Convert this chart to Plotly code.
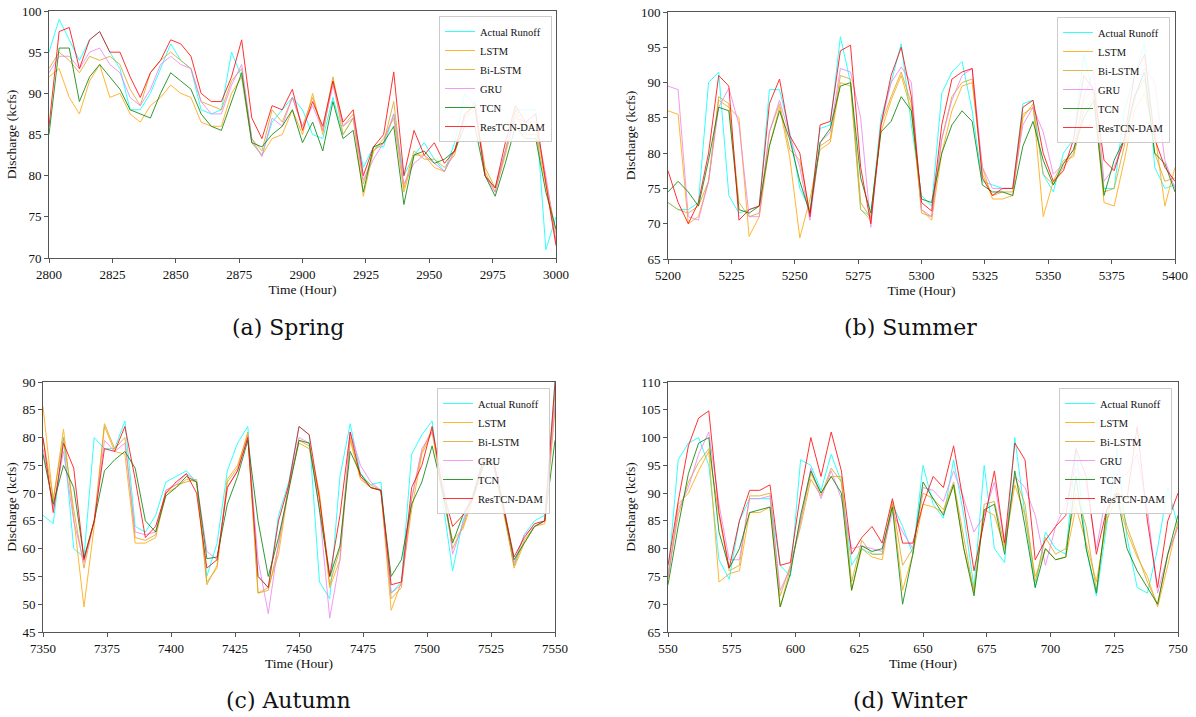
import plotly.graph_objects as go

spring_hours = list(range(2800, 3001, 4))
spring_actual = [95, 99, 96.5, 94, 96.5, 97.5, 95, 93, 88, 88, 90, 93, 96, 94, 93, 88, 87.5, 88, 95, 92, 84, 82.5, 86.5, 88, 89.5, 88, 85, 84.5, 89.5, 85, 87, 81, 83.5, 83.5, 87.5, 80, 82.5, 84, 82, 80.5, 84, 90, 88.5, 80, 78.5, 83, 88, 88, 88, 71, 75]
spring_lstm = [92, 93, 89.5, 87.5, 91.5, 93.5, 89.5, 90, 87.5, 86.5, 88.5, 89.5, 91, 90, 89.5, 86.5, 86, 86, 90, 92, 84, 82.5, 84.5, 85, 88, 85, 90, 85, 91.5, 85, 87, 77.5, 83, 84.5, 87, 78, 82.5, 82.5, 81, 80.5, 83, 87, 88, 80.5, 78, 82.5, 87.5, 85, 85, 79, 72]
spring_bilstm = [93, 95, 94, 92.5, 94.5, 94, 94.5, 93.5, 90.5, 88.5, 92.5, 94, 95, 94, 93, 89, 88.5, 88, 91.5, 93, 84.5, 83, 88, 86.5, 89.5, 86, 89.5, 85.5, 92, 86, 87.5, 79, 83, 84, 89, 78.5, 83, 82, 82, 81, 82.5, 87.5, 88.5, 81, 78.5, 83, 88, 86, 86, 79.5, 73]
spring_gru = [92.5, 94.5, 94.5, 93, 95, 95.5, 93.5, 92.5, 89.5, 88.5, 90.5, 93.5, 94.5, 93.5, 93, 89, 87.5, 87.5, 91, 93.5, 84.5, 82.3, 87, 86, 89.5, 86, 88.5, 85.5, 91, 86, 87, 79.5, 82, 84, 87.5, 79, 81.5, 82.5, 81.5, 80.5, 83, 87, 89, 80, 78, 83, 87, 86.5, 86.5, 80, 72]
spring_tcn = [85, 95.5, 95.5, 89, 92, 93.5, 92, 90.5, 88, 87.5, 87, 90, 92.5, 91.5, 90.5, 87.5, 86, 85.5, 89, 92.5, 84, 83.5, 85, 86, 88, 84, 86.5, 83, 89, 84.5, 85.5, 78, 83.5, 84, 86, 76.5, 82.5, 83, 81.5, 82, 83, 86, 86, 80, 77.5, 81.5, 86, 84.5, 84.5, 78, 73.5]
spring_restcn = [86, 97.5, 98, 93, 96.5, 97.5, 95, 95, 92, 89.5, 92.5, 94, 96.5, 96, 94.5, 90, 89, 89, 92, 96.5, 87, 84.5, 88.5, 88, 90.5, 85.5, 89, 86, 91.5, 86.5, 88, 80, 83.5, 85, 92.6, 80, 85.5, 82.5, 84, 81.5, 83, 87.5, 88.5, 80, 78.5, 84, 88.5, 86.5, 87.5, 79, 71.5]

summer_hours = list(range(5200, 5401, 4))
summer_actual = [73, 72, 72, 73, 90, 91.5, 74, 71.5, 72, 72.5, 89, 89, 83, 75, 72, 83.5, 84, 96.5, 90, 72, 71, 85, 90, 95.5, 84, 74, 72.5, 88.5, 91.5, 93, 86, 76, 75.5, 75, 75, 87, 87.5, 77, 74.5, 80, 82, 94, 88, 75, 75, 86, 91, 95.5, 78, 75, 75.5]
summer_lstm = [86, 85.5, 70, 71, 76, 87.5, 86.5, 85, 68.2, 71, 81, 86.5, 79.5, 68, 73.5, 80.5, 81.5, 90, 89.5, 72, 70.5, 83, 87.5, 91, 86, 72, 70.5, 80, 86, 89.5, 90, 78, 73.5, 73.5, 74, 85, 87, 71, 76, 79, 79.5, 86, 88, 73, 72.5, 79, 86, 88.5, 83, 72.5, 78]
summer_bilstm = [73, 72, 71.5, 72.5, 76, 88, 87, 73, 71, 71.5, 83, 87, 80.5, 79, 71.5, 81, 82, 91, 90.5, 73, 70.8, 84, 88, 91.5, 87, 71.5, 71, 82, 88, 90, 90.5, 77, 74, 74.5, 74.5, 85.5, 86.5, 77, 75.5, 78, 80, 87.5, 89, 74.5, 75, 81, 88, 90.5, 80, 76, 76.5]
summer_gru = [89.5, 89, 71, 70.5, 76, 86.5, 89.2, 84, 71, 71, 83, 87.5, 82.5, 78, 70.5, 81.5, 83, 92, 91.5, 85, 69.5, 84, 90, 92.2, 90, 72, 71, 82, 87.5, 91, 92, 78, 75, 75, 75, 84, 86.5, 83, 77, 78.5, 80.5, 88, 91.5, 76, 78, 82, 87.5, 92, 90, 79, 75]
summer_tcn = [74.5, 76, 74.5, 72.5, 79, 86.5, 86, 72, 71.5, 72.5, 81, 86, 82, 76, 71.5, 81.5, 83.5, 89.5, 90, 76.5, 71.5, 83, 84.5, 88, 86, 73.5, 73, 80, 84, 86, 84.5, 75.5, 74.5, 74.5, 74, 81, 84.5, 79, 75.5, 78.5, 80.5, 85, 87.5, 74, 79, 82, 88, 91.5, 80, 78.5, 74.5]
summer_restcn = [77.5, 73, 70, 73, 80, 91, 89.5, 70.5, 72, 72.5, 87, 90.5, 82.5, 80, 71, 84, 84.5, 94.5, 95.3, 78, 70, 84, 91, 95, 88, 73, 71.8, 84, 90.5, 91.5, 92, 76.5, 74, 75, 75, 86.5, 87.5, 80, 76, 77.5, 82, 91, 89, 79, 77.5, 82, 91, 94, 82, 78, 76]

autumn_hours = list(range(7350, 7551, 4))
autumn_actual = [66, 64.5, 80, 60, 58.5, 80, 78, 78, 83, 64, 63, 66, 72, 73, 74, 72, 55, 61, 74, 79, 82, 55, 53, 66, 72, 82, 80.5, 54, 51, 73, 82.5, 73.5, 71.5, 72, 52, 54, 77, 80.5, 83, 69, 56, 65, 70, 76.5, 75.5, 67, 57, 62.5, 65, 66, 90]
autumn_lstm = [85.6, 68.5, 81.5, 66, 49.5, 64, 82, 77.5, 77, 61, 61, 62, 70, 71, 72.5, 72, 54, 56.5, 72.5, 75, 80.5, 52, 53, 59, 71, 79.5, 78.5, 70, 53, 58, 79.5, 72.5, 71, 70.5, 48.9, 54, 67, 77, 81, 70, 61.5, 63.5, 69, 75.5, 75, 67, 56.5, 61, 64, 64.5, 85]
autumn_bilstm = [80, 69, 80, 67, 56.5, 65, 82.5, 78, 80, 62, 61.5, 62.5, 70.5, 71.5, 72, 72.5, 53.5, 57, 72, 74.5, 81, 52, 52.5, 60.5, 71.5, 79, 78, 69, 53.5, 60, 80, 73, 71.5, 70.5, 51, 53, 69, 77.5, 81.5, 70.5, 60, 64, 69.5, 75, 75.5, 66.5, 57, 61.5, 64, 65, 88]
autumn_gru = [78, 67.5, 77.5, 65, 57.5, 65, 79.5, 77.5, 79, 63, 62.5, 63, 70.5, 71.5, 73.5, 72, 59.5, 58, 71, 74, 80, 58, 48.3, 61, 71, 80, 79, 67, 47.5, 58, 81, 75, 72, 70.5, 52, 53.5, 69, 78, 81, 73.5, 59, 64.5, 70, 76, 75, 68, 57.5, 62.5, 64, 65, 86]
autumn_tcn = [77, 68, 75, 71, 58.3, 65, 74, 76, 77.5, 74.5, 65, 63, 69.5, 71, 73, 72, 58.2, 58.5, 68, 73, 79.5, 65, 55, 62, 70.5, 79.5, 79, 67, 55, 60.5, 77.5, 73.5, 71, 70.5, 55, 58, 68, 72, 78.5, 70.5, 61, 66, 69, 75, 75.5, 67, 58, 61, 64, 65, 79.5]
autumn_restcn = [80, 66.5, 79, 74.5, 58, 65, 78, 77.5, 82, 72.5, 62, 64, 70, 72, 73.5, 70, 56.5, 58, 71, 74, 80, 55, 53, 65, 71.5, 82, 80.5, 69, 55, 66, 81, 73, 71, 70.5, 53.5, 54, 71, 75, 82, 71, 64, 66, 69.5, 76, 76, 67, 58.5, 62, 64.5, 65, 90]

winter_hours = list(range(550, 751, 4))
winter_actual = [75, 96, 99, 100, 95, 78, 74.5, 85, 89, 89, 89, 77, 75, 96, 95, 90.5, 97, 92, 77, 80, 79, 79, 88, 84, 79, 95, 88, 85.5, 96, 86, 73, 95, 80, 77.5, 100, 86, 73, 83, 80, 79, 98, 80, 71.5, 84, 98, 82, 73, 72, 80, 91, 84]
winter_lstm = [74.5, 88, 90, 94, 97.5, 74, 75.5, 76, 86.5, 86.5, 87.5, 69.5, 76.5, 85, 93.5, 90, 93, 93, 72.5, 80, 78.5, 78, 88, 72.5, 79, 88, 87.5, 86.5, 91.5, 80, 72.5, 87, 86, 80, 91.5, 86, 75, 80, 78, 78.5, 87.5, 81, 74, 85, 89.5, 83, 78.5, 75, 69.5, 77, 85]
winter_bilstm = [75, 86, 92, 95.5, 98, 86, 76, 77, 89.5, 89.5, 90, 71.5, 77, 84, 92.5, 89.5, 94.5, 92, 74, 81.5, 79, 79, 88.5, 77, 80, 90, 89, 87, 92, 82, 72, 88, 88.5, 80.5, 93, 88, 74, 82, 79, 80, 90, 84, 72.5, 86, 91, 84, 79, 74, 70, 79, 84]
winter_gru = [75, 87, 91, 97, 101, 88, 78, 78, 89, 89, 89.5, 72.5, 76.5, 85, 94.5, 89, 94, 89, 80, 80.5, 80, 79.5, 86.5, 83, 80, 91, 90.5, 88.5, 94, 89, 83, 86, 92, 81, 93, 91, 86, 77, 84, 88, 94.5, 92, 80, 90, 92.5, 93.5, 97, 87, 72, 79, 84]
winter_tcn = [73.5, 84, 93.5, 99, 100, 83, 76.5, 80, 86.5, 87, 87.5, 69.5, 75.5, 86, 94, 90, 93, 90, 72.5, 80.5, 79.5, 80, 87.5, 70, 79, 92, 89, 86, 91.5, 80, 71.5, 87, 88, 79, 94, 84, 73, 80, 78, 78.5, 93, 80, 72, 87, 90, 80, 76, 73, 70, 79, 86]
winter_restcn = [77, 88.5, 98.5, 103.5, 104.8, 86.5, 76.5, 85, 90.5, 90.5, 91.5, 77, 77.5, 90, 100, 93, 101, 94, 79, 82, 84, 81, 89, 81, 81, 88, 93, 91, 98.5, 88, 76, 85, 94, 81, 99, 96, 78, 81.5, 84, 86, 98, 93, 79, 87, 90, 89, 102, 85, 73, 85, 90]

series_names = ["Actual Runoff", "LSTM", "Bi-LSTM", "GRU", "TCN", "ResTCN-DAM"]
series_colors = ["#00FFFF", "#FFA500", "#DAA520", "#EE82EE", "#008000", "#FF0000"]

panel_captions = ["(a) Spring", "(b) Summer", "(c) Autumn", "(d) Winter"]
panel_xranges = [[2800, 3000], [5200, 5400], [7350, 7550], [550, 750]]
panel_yranges = [[70, 100], [65, 100], [45, 90], [65, 110]]

panels = [
    (spring_hours, [spring_actual, spring_lstm, spring_bilstm, spring_gru, spring_tcn, spring_restcn]),
    (summer_hours, [summer_actual, summer_lstm, summer_bilstm, summer_gru, summer_tcn, summer_restcn]),
    (autumn_hours, [autumn_actual, autumn_lstm, autumn_bilstm, autumn_gru, autumn_tcn, autumn_restcn]),
    (winter_hours, [winter_actual, winter_lstm, winter_bilstm, winter_gru, winter_tcn, winter_restcn]),
]

# ---------------- layout geometry ----------------
W, H = 1196, 717
# plot areas in pixels: (left, right, top, bottom)
boxes = [(49, 556, 11, 258), (668, 1175, 12, 259), (43, 555, 382, 632), (668, 1178, 382, 632)]
legend_pos = [(552, 16), (1170, 17), (550, 388), (1172, 388)]
caption_pos = [(288, 327), (910, 327), (288, 700), (910, 700)]

SERIF = "Liberation Serif, Times New Roman, serif"
AXC = "#555555"

fig = go.Figure()
layout = dict(
    width=W, height=H, margin=dict(l=0, r=0, t=0, b=0),
    paper_bgcolor="white", plot_bgcolor="white", annotations=[],
)

for i, (hours, vals) in enumerate(panels):
    n = "" if i == 0 else str(i + 1)
    leg = "legend" if i == 0 else f"legend{i + 1}"
    for name, color, ys in zip(series_names, series_colors, vals):
        fig.add_trace(go.Scatter(
            x=hours, y=ys, mode="lines", name=name,
            line=dict(color=color, width=1), opacity=0.8,
            xaxis="x" + n, yaxis="y" + n, legend=leg, showlegend=True,
        ))
    l, r, t, b = boxes[i]
    axis_common = dict(
        showline=True, mirror=True, linecolor=AXC, linewidth=1,
        ticks="outside", ticklen=4, tickwidth=1, tickcolor=AXC,
        showgrid=False, zeroline=False, automargin=False,
        tickfont=dict(family=SERIF, size=13, color="#111"),
    )
    layout["xaxis" + n] = dict(
        axis_common, domain=[l / W, r / W], range=panel_xranges[i],
        tick0=panel_xranges[i][0], dtick=25, anchor="y" + n,
        title=dict(text="Time (Hour)", font=dict(family=SERIF, size=13.5, color="#111"), standoff=2),
    )
    layout["yaxis" + n] = dict(
        axis_common, domain=[1 - b / H, 1 - t / H], range=panel_yranges[i],
        dtick=5, anchor="x" + n,
        title=dict(text="Discharge (kcfs)", font=dict(family=SERIF, size=13.5, color="#111"), standoff=2),
    )
    lx, ly = legend_pos[i]
    layout[leg] = dict(
        x=lx / W, y=1 - ly / H, xanchor="right", yanchor="top",
        bgcolor="rgba(255,255,255,0.85)", bordercolor="#cccccc", borderwidth=1,
        font=dict(family=SERIF, size=10.5, color="#111"), itemwidth=30,
        tracegroupgap=0,
    )
    cx, cy = caption_pos[i]
    layout["annotations"].append(dict(
        text=panel_captions[i], x=cx / W, y=1 - cy / H, xref="paper", yref="paper",
        xanchor="center", yanchor="middle", showarrow=False,
        font=dict(family="DejaVu Serif", size=22, color="#111"),
    ))

fig.update_layout(**layout)
fig.write_html("out.html")
